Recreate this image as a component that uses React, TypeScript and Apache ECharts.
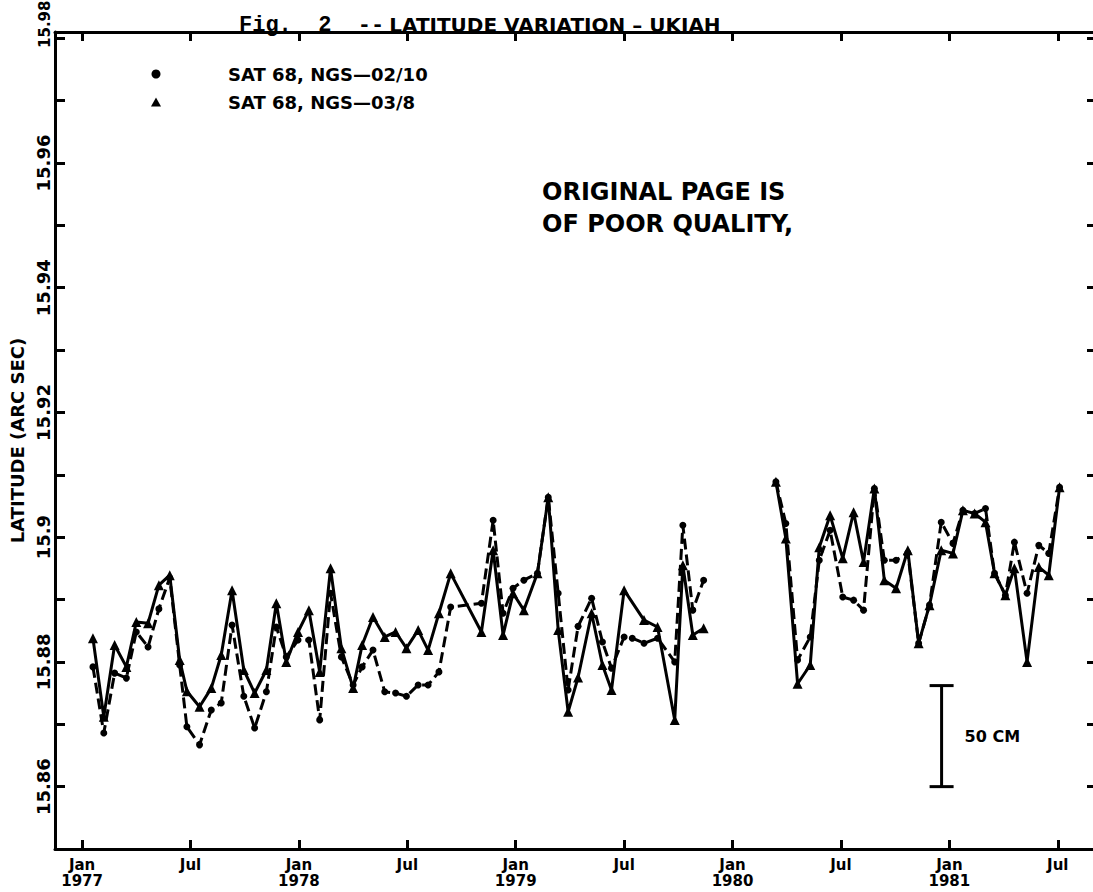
import React, { useEffect, useRef } from "react";
import * as echarts from "echarts";

// Observation epochs, months since Jan 1977 (Jan 1977 = 0)
const months = [
  0.6, 1.2, 1.8, 2.45, 3.0, 3.65, 4.25, 4.85, 5.4, 5.8, 6.5, 7.15, 7.7, 8.3, 8.95, 9.55, 10.2, 10.75,
  11.3, 11.95, 12.55, 13.15, 13.75, 14.35, 15.0, 15.5, 16.1, 16.75, 17.35, 17.95, 18.6, 19.15, 19.75,
  20.4, 22.1, 22.75, 23.3, 23.85, 24.45, 25.2, 25.8, 26.35, 26.9, 27.45, 28.2, 28.8, 29.3, 30.0, 30.45,
  31.1, 31.85, 32.8, 33.25, 33.8, 34.4,
  38.4, 38.95, 39.6, 40.3, 40.8, 41.4, 42.1, 42.7, 43.25, 43.85, 44.4, 45.05, 45.7, 46.3, 46.9, 47.55,
  48.2, 48.75, 49.4, 50.0, 50.5, 51.1, 51.6, 52.3, 52.95, 53.5, 54.1,
];

// SAT 68, NGS-02/10 (dashed, dots)
const ngs0210: (number | null)[] = [
  15.8792, 15.8686, 15.8782, 15.8774, 15.8848, 15.8824, 15.8885, 15.8935, 15.8795, 15.8696, 15.8667,
  15.8723, 15.8734, 15.8859, 15.8745, 15.8694, 15.8752, 15.8856, 15.8808, 15.8835, 15.8835, 15.8707,
  15.891, 15.8808, 15.8763, 15.8792, 15.8819, 15.8752, 15.875, 15.8745, 15.8763, 15.8763, 15.8784,
  15.8888, 15.8894, 15.9027, 15.8878, 15.8918, 15.8931, 15.8942, 15.9064, 15.891, 15.8755, 15.8857,
  15.8902, 15.8832, 15.879, 15.884, 15.8838, 15.883, 15.8838, 15.88, 15.9019, 15.8883, 15.8931,
  15.9089, 15.9022, 15.8803, 15.884, 15.8963, 15.9011, 15.8904, 15.8899, 15.8883, 15.9078, 15.8963,
  15.8963, 15.8975, 15.883, 15.8891, 15.9024, 15.899, 15.9043, 15.9038, 15.9046, 15.8942, 15.8907,
  15.8992, 15.891, 15.8987, 15.8974, 15.908,
];

// SAT 68, NGS-03/8 (solid, triangles)
const ngs038: (number | null)[] = [
  15.8838, 15.8712, 15.8827, 15.8792, 15.8864, 15.8862, 15.8923, 15.8939, 15.8803, 15.8753, 15.8728,
  15.8758, 15.8811, 15.8915, 15.8787, 15.875, 15.8787, 15.8894, 15.88, 15.8848, 15.8883, 15.8784,
  15.895, 15.8822, 15.8758, 15.8827, 15.8872, 15.884, 15.8848, 15.8822, 15.8851, 15.8819, 15.8878,
  15.8942, 15.8848, 15.8979, 15.8843, 15.891, 15.8883, 15.8942, 15.9064, 15.8851, 15.872, 15.8775,
  15.8878, 15.8795, 15.8755, 15.8915, null, 15.8867, 15.8856, 15.8707, 15.8955, 15.8843, 15.8854,
  15.9089, 15.8998, 15.8765, 15.8795, 15.8984, 15.9035, 15.8966, 15.904, 15.896, 15.9078, 15.8931,
  15.8918, 15.8979, 15.883, 15.8891, 15.8979, 15.8974, 15.9043, 15.9038, 15.9024, 15.8942, 15.8907,
  15.895, 15.88, 15.8952, 15.8939, 15.908,
];

const campaignStart1980 = 38.4; // no data between late 1979 and Mar 1980

const xTickMonths = [0, 6, 12, 18, 24, 30, 36, 42, 48, 54];
const xTickLabels = ["Jan\n1977", "Jul", "Jan\n1978", "Jul", "Jan\n1979", "Jul", "Jan\n1980", "Jul", "Jan\n1981", "Jul"];

const yTickValues = [15.86, 15.87, 15.88, 15.89, 15.9, 15.91, 15.92, 15.93, 15.94, 15.95, 15.96, 15.97, 15.98];
const yLabelValues = [15.86, 15.88, 15.9, 15.92, 15.94, 15.96, 15.98];
const yLabelTexts = ["15.86", "15.88", "15.9", "15.92", "15.94", "15.96", "15.98"];

const NAME_A = "SAT 68, NGS\u201402/10";
const NAME_B = "SAT 68, NGS\u201403/8";

// 50 cm scale bar (0.5 m / 30.87 m per arc second)
const scaleBarMonth = [47.57];
const scaleBarFrom = [15.86];
const scaleBarTo = [15.8762];
const scaleBarText = "50 CM";

const FONT = "'DejaVu Sans', 'Noto Sans', sans-serif";

function buildSeries(vals: (number | null)[]) {
  const out: any[] = [];
  months.forEach((m, i) => {
    if (m === campaignStart1980) out.push([(months[i - 1] + m) / 2, "-"]);
    if (vals[i] != null) out.push([m, vals[i]]);
  });
  return out;
}

export default function App() {
  const ref = useRef<HTMLDivElement>(null);
  useEffect(() => {
    if (!ref.current) return;
    const chart = echarts.init(ref.current, null, { renderer: "svg" });
    const axisLine = { show: true, onZero: false, lineStyle: { color: "#000", width: 3 } };
    const option: any = {
      animation: false,
      backgroundColor: "#fff",
      title: {
        left: 234,
        top: 9,
        text: "{a|Fig.  2  --} {b|LATITUDE VARIATION \u2013 UKIAH}",
        textStyle: {
          rich: {
            a: { fontFamily: "'Liberation Mono', monospace", fontWeight: "bold", fontSize: 22, color: "#000" },
            b: { fontFamily: FONT, fontWeight: "bold", fontSize: 20, color: "#000" },
          },
        },
      },
      legend: {
        orient: "vertical",
        left: 146,
        top: 60,
        itemWidth: 10,
        itemHeight: 9,
        itemGap: 10,
        selectedMode: false,
        data: [
          { name: NAME_A, icon: "circle" },
          { name: NAME_B, icon: "triangle" },
        ],
        textStyle: { color: "#000", fontSize: 18, fontWeight: "bold", fontFamily: FONT, padding: [0, 0, 0, 62] },
      },
      graphic: [
        {
          type: "text",
          left: 542,
          top: 176,
          style: {
            text: "ORIGINAL PAGE IS\nOF POOR QUALITY,",
            font: `bold 24px ${FONT}`,
            fill: "#000",
            lineHeight: 32,
          },
        },
      ],
      grid: { left: 55, top: 32, right: 0, bottom: 43, outerBoundsMode: "none" },
      xAxis: [
        {
          type: "value",
          min: -1.5,
          max: 55.95,
          position: "bottom",
          axisLine,
          splitLine: { show: false },
          axisTick: { show: true, inside: true, length: 9, lineStyle: { color: "#000", width: 3 }, customValues: xTickMonths },
          axisLabel: {
            customValues: xTickMonths,
            formatter: (v: number) => xTickLabels[xTickMonths.indexOf(Math.round(v))] ?? "",
            color: "#000",
            fontFamily: FONT,
            fontWeight: "bold",
            fontSize: 15,
            lineHeight: 16,
            margin: 8,
          },
        },
        {
          type: "value",
          min: -1.5,
          max: 55.95,
          position: "top",
          axisLine,
          splitLine: { show: false },
          axisTick: { show: true, inside: true, length: 9, lineStyle: { color: "#000", width: 3 }, customValues: xTickMonths },
          axisLabel: { show: false },
        },
      ],
      yAxis: [
        {
          type: "value",
          min: 15.85,
          max: 15.981,
          position: "left",
          axisLine,
          splitLine: { show: false },
          name: "LATITUDE (ARC SEC)",
          nameLocation: "middle",
          nameGap: 28,
          nameRotate: 90,
          nameTextStyle: { color: "#000", fontFamily: FONT, fontWeight: "bold", fontSize: 18 },
          axisTick: { show: true, inside: true, length: 10, lineStyle: { color: "#000", width: 3 }, customValues: yTickValues },
          axisLabel: {
            customValues: yLabelValues,
            rotate: 90,
            margin: 3,
            formatter: (v: number) => {
              const i = yLabelValues.findIndex((t) => Math.abs(t - v) < 1e-6);
              const s = i >= 0 ? yLabelTexts[i] : "";
              return i === yLabelValues.length - 1 ? `{top|${s}}` : s;
            },
            rich: { top: { padding: [0, 0, 0, 28], fontFamily: FONT, fontWeight: "bold", fontSize: 15, color: "#000" } },
            color: "#000",
            fontFamily: FONT,
            fontWeight: "bold",
            fontSize: 18,
          },
        },
        {
          type: "value",
          min: 15.85,
          max: 15.981,
          position: "right",
          axisLine: { show: false, onZero: false },
          splitLine: { show: false },
          axisTick: { show: true, inside: true, length: 6, lineStyle: { color: "#000", width: 3 }, customValues: yTickValues },
          axisLabel: { show: false },
        },
      ],
      series: [
        {
          name: NAME_A,
          type: "line",
          data: buildSeries(ngs0210),
          symbol: "circle",
          symbolSize: 7,
          connectNulls: false,
          lineStyle: { color: "#000", width: 3, type: [11, 5] },
          itemStyle: { color: "#000" },
          z: 2,
        },
        {
          name: NAME_B,
          type: "line",
          data: buildSeries(ngs038),
          symbol: "triangle",
          symbolSize: 10,
          connectNulls: false,
          lineStyle: { color: "#000", width: 3, type: "solid" },
          itemStyle: { color: "#000" },
          z: 3,
        },
        {
          name: "scale",
          type: "custom",
          silent: true,
          data: scaleBarMonth.map((m, i) => [m, scaleBarFrom[i], scaleBarTo[i]]),
          renderItem: (_params: any, api: any) => {
            const p0 = api.coord([api.value(0), api.value(1)]);
            const p1 = api.coord([api.value(0), api.value(2)]);
            const cap = 12;
            const style = { stroke: "#000", lineWidth: 3 };
            return {
              type: "group",
              children: [
                { type: "line", shape: { x1: p0[0], y1: p0[1], x2: p1[0], y2: p1[1] }, style },
                { type: "line", shape: { x1: p0[0] - cap, y1: p0[1], x2: p0[0] + cap, y2: p0[1] }, style },
                { type: "line", shape: { x1: p1[0] - cap, y1: p1[1], x2: p1[0] + cap, y2: p1[1] }, style },
                {
                  type: "text",
                  x: p0[0] + 23,
                  y: (p0[1] + p1[1]) / 2,
                  style: { text: scaleBarText, fill: "#000", font: `bold 16px ${FONT}`, verticalAlign: "middle" },
                },
              ],
            };
          },
          z: 4,
        },
      ],
    };
    chart.setOption(option);
    return () => chart.dispose();
  }, []);
  return (
    <div
      ref={ref}
      style={{ position: "fixed", left: 0, top: 0, width: 1093, height: 892, background: "#fff" }}
    />
  );
}
